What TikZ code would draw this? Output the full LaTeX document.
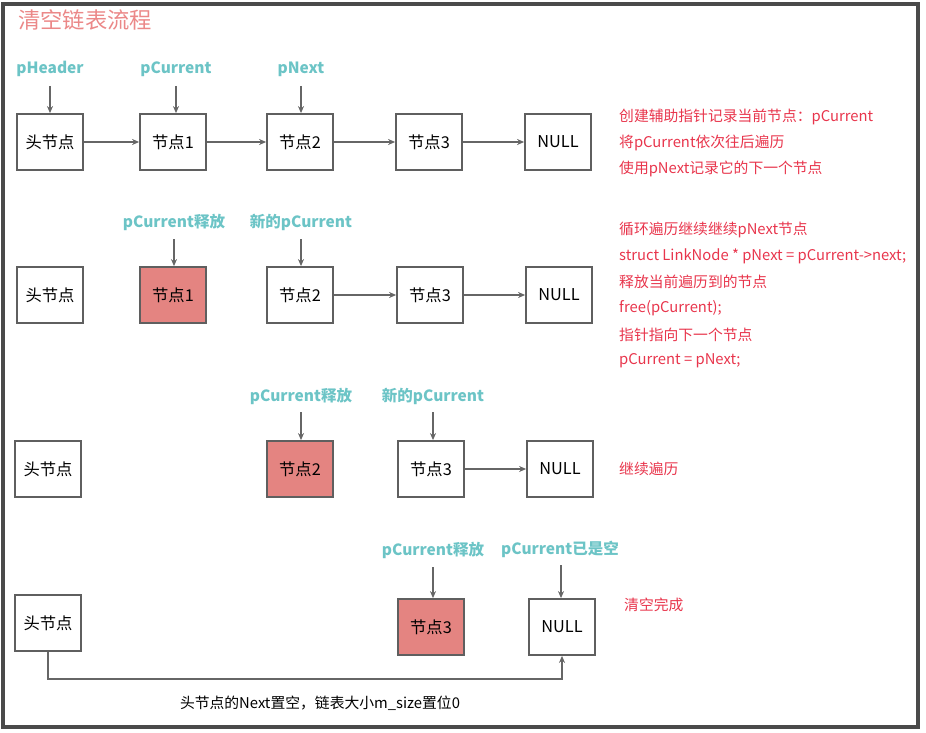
\documentclass[tikz,border=0pt]{standalone}
\usepackage{fontspec}
\setmainfont{Noto Sans CJK SC}
\usetikzlibrary{arrows.meta}
\definecolor{boxgray}{HTML}{5F5F5F}
\definecolor{arrgray}{HTML}{666666}
\definecolor{lbl}{HTML}{6CC4C6}
\definecolor{redtxt}{HTML}{E8354C}
\definecolor{titlepink}{HTML}{EB8888}
\definecolor{freed}{HTML}{E48481}
\definecolor{frame}{HTML}{4A4A4A}
\tikzset{
  box/.style={draw=boxgray, line width=1.8pt, minimum width=66pt, minimum height=56pt, inner sep=0pt, font=\fontsize{16.3}{19}\selectfont, fill=white},
  freedbox/.style={box, fill=freed},
  arr/.style={draw=arrgray, line width=1.3pt, -{Stealth[length=7pt,width=6pt]}},
  ptr/.style={text=lbl, font=\bfseries\fontsize{15.5}{18}\selectfont, inner sep=0pt},
  note/.style={text=redtxt, font=\fontsize{14.8}{17}\selectfont, anchor=west, inner sep=0pt},
}
\begin{document}
\begin{tikzpicture}[x=1pt,y=-1pt]
\useasboundingbox (0,0) rectangle (926,733);
\draw[frame, line width=3.2pt] (3,4) rectangle (918,727);
\node[text=titlepink, font=\fontsize{22.3}{26}\selectfont, anchor=west, inner sep=0pt] (title) at (18,20) {清空链表流程};

% Row 1
\node[box] (h1) at (50,142) {头节点};
\node[box] (a1) at (173,142) {节点1};
\node[box] (b1) at (300,142) {节点2};
\node[box] (c1) at (429,142) {节点3};
\node[box] (n1) at (558,142) {NULL};
\draw[arr] (h1) -- (a1);
\draw[arr] (a1) -- (b1);
\draw[arr] (b1) -- (c1);
\draw[arr] (c1) -- (n1);
\node[ptr] (l11) at (50,69) {pHeader};
\node[ptr] (l12) at (176,69) {pCurrent};
\node[ptr] (l13) at (301,69) {pNext};
\coordinate (p11) at (50,86);
\coordinate (p12) at (176,86);
\coordinate (p13) at (301,86);
\draw[arr] (p11) -- (p11 |- h1.north);
\draw[arr] (p12) -- (p12 |- a1.north);
\draw[arr] (p13) -- (p13 |- b1.north);
\node[note] (t11) at (619,117) {创建辅助指针记录当前节点：pCurrent};
\node[note] (t12) at (619,143) {将pCurrent依次往后遍历};
\node[note] (t13) at (619,169) {使用pNext记录它的下一个节点};

% Row 2
\node[box] (h2) at (50,295) {头节点};
\node[freedbox] (a2) at (173,295) {节点1};
\node[box] (b2) at (300,295) {节点2};
\node[box] (c2) at (430,295) {节点3};
\node[box] (n2) at (559,295) {NULL};
\draw[arr] (b2) -- (c2);
\draw[arr] (c2) -- (n2);
\node[ptr] (l21) at (174,222) {pCurrent释放};
\node[ptr] (l22) at (301,222) {新的pCurrent};
\coordinate (p21) at (174,239);
\coordinate (p22) at (301,239);
\draw[arr] (p21) -- (p21 |- a2.north);
\draw[arr] (p22) -- (p22 |- b2.north);
\node[note] (t21) at (619,230) {循环遍历继续继续pNext节点};
\node[note] (t22) at (619,256) {struct LinkNode * pNext = pCurrent->next;};
\node[note] (t23) at (619,282) {释放当前遍历到的节点};
\node[note] (t24) at (619,308) {free(pCurrent);};
\node[note] (t25) at (619,335) {指针指向下一个节点};
\node[note] (t26) at (619,361) {pCurrent = pNext;};

% Row 3
\node[box] (h3) at (48,469) {头节点};
\node[freedbox] (b3) at (300,469) {节点2};
\node[box] (c3) at (431,469) {节点3};
\node[box] (n3) at (560,469) {NULL};
\draw[arr] (c3) -- (n3);
\node[ptr] (l31) at (301,396) {pCurrent释放};
\node[ptr] (l32) at (433,396) {新的pCurrent};
\coordinate (p31) at (301,412);
\coordinate (p32) at (433,412);
\draw[arr] (p31) -- (p31 |- b3.north);
\draw[arr] (p32) -- (p32 |- c3.north);
\node[note] (t31) at (619,469) {继续遍历};

% Row 4
\node[box] (h4) at (48,623) {头节点};
\node[freedbox] (c4) at (431,627) {节点3};
\node[box] (n4) at (562,627) {NULL};
\node[ptr] (l41) at (433,550) {pCurrent释放};
\node[ptr] (l42) at (560,549) {pCurrent已是空};
\coordinate (p41) at (433,567);
\coordinate (p42) at (561,565);
\draw[arr] (p41) -- (p41 |- c4.north);
\draw[arr] (p42) -- (p42 |- n4.north);
\node[note] (t41) at (624,605) {清空完成};
\coordinate (cb) at (300,679);
\draw[arr] (h4.south) |- (cb) -| (n4.south);
\node[font=\fontsize{14.8}{17}\selectfont, inner sep=0pt] (t42) at (320,703) {头节点的Next置空，链表大小m\_size置位0};
\end{tikzpicture}
\end{document}
